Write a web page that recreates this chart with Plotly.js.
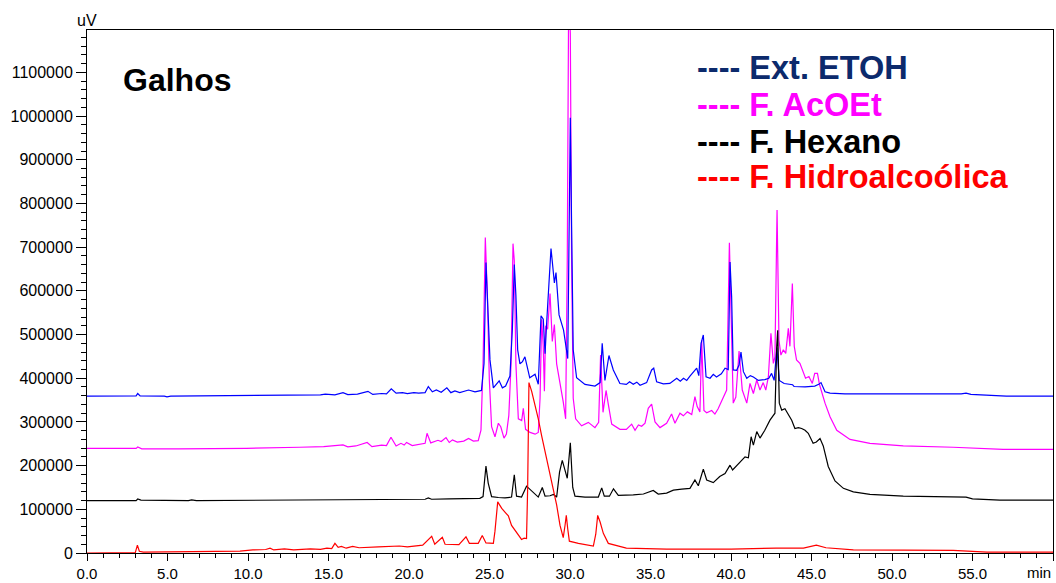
<!DOCTYPE html>
<html>
<head>
<meta charset="utf-8">
<script src="https://cdn.plot.ly/plotly-3.0.1.min.js"></script>
<style>html,body{margin:0;padding:0;background:#fff;}#chart{width:1056px;height:583px;}</style>
</head>
<body>
<div id="chart"></div>
<script>
// Retention time ticks (min)
const xTickVals = [0, 5, 10, 15, 20, 25, 30, 35, 40, 45, 50, 55, 60];
const xTickText = ["0.0", "5.0", "10.0", "15.0", "20.0", "25.0", "30.0", "35.0", "40.0", "45.0", "50.0", "55.0", ""];

const seriesNames = ["Ext. ETOH", "F. AcOEt", "F. Hexano", "F. Hidroalcoólica"];

// Ext. ETOH (blue)
const etohT = [0,3.05,3.15,3.3,4.8,4.97,5.2,9.9,12.0,13.2,14.5,14.8,15.4,15.9,16.2,16.8,17.45,17.75,18.3,18.6,18.9,19.2,19.6,19.9,20.3,20.6,21.0,21.2,21.45,21.7,22.0,22.35,22.6,22.85,23.15,23.7,24.1,24.5,24.66,24.78,24.9,25.03,25.24,25.42,25.6,25.8,26.0,26.27,26.42,26.54,26.64,26.75,26.89,27.05,27.2,27.5,27.83,28.03,28.2,28.34,28.45,28.55,28.82,29.03,29.13,29.32,29.6,29.86,29.96,30.02,30.1,30.2,30.41,30.93,31.55,31.87,32.0,32.17,32.42,32.69,33.1,33.5,33.7,33.93,34.15,34.35,34.76,35.07,35.2,35.38,35.8,36.2,36.63,36.85,37.05,37.25,37.45,37.87,38.0,38.14,38.28,38.45,38.7,38.9,39.1,39.4,39.63,39.83,39.94,40.04,40.14,40.35,40.5,40.62,40.77,40.98,41.2,41.39,41.7,42.1,42.35,42.52,42.68,42.85,43.0,43.3,43.83,43.92,44.6,45.2,45.45,45.59,45.84,46.15,47.08,49.67,54.3,54.6,54.9,57.1,60];
const etohV = [359000,359500,365000,359500,359000,357500,359000,360000,361000,362000,362000,363500,362000,367000,362500,363500,370000,363000,365000,364000,376000,366000,367000,365000,367000,366000,367000,381000,369000,373000,368000,378000,367000,371000,367000,373000,369000,372000,434000,665000,548000,442000,378000,385000,394000,378000,382000,405000,512000,660000,590000,465000,433000,438000,449000,401000,409000,386000,543000,535000,456000,527000,697000,618000,642000,545000,510000,445000,748000,996000,748000,465000,401000,386000,382000,390000,480000,395000,452000,419000,388000,386000,392000,386000,391000,384000,390000,419000,423000,392000,387000,388000,400000,393000,400000,395000,405000,423000,406000,480000,499000,403000,400000,409000,403000,410000,423000,420000,666000,586000,419000,418000,430000,460000,415000,400000,406000,403000,395000,397000,400000,411000,395000,470000,395000,388000,385000,381000,380000,382000,386000,390000,369000,366000,364000,364000,364000,366000,363000,359000,359000];

// F. AcOEt (magenta)
const acoetT = [0,3.05,3.15,3.4,5.7,9.9,13.2,14.7,15.9,16.2,16.7,17.4,17.7,18.3,18.6,18.88,19.2,19.5,19.7,19.85,20.2,20.7,21.0,21.12,21.35,21.8,22.0,22.3,22.5,22.7,23.0,23.4,23.7,24.0,24.3,24.47,24.6,24.74,24.87,24.99,25.13,25.34,25.55,25.7,25.9,26.05,26.2,26.34,26.46,26.54,26.64,26.79,27.0,27.1,27.24,27.52,27.83,28.03,28.14,28.24,28.34,28.41,28.49,28.61,28.76,28.9,29.03,29.17,29.38,29.58,29.73,29.83,29.92,30.02,30.1,30.2,30.35,30.72,31.14,31.55,31.78,31.9,32.05,32.24,32.38,32.59,33.1,33.5,33.83,34.04,34.25,34.45,34.66,34.86,35.07,35.28,35.59,36.0,36.31,36.52,36.83,37.04,37.29,37.56,37.76,37.9,38.07,38.18,38.32,38.49,38.8,39.0,39.2,39.52,39.73,39.9,40.04,40.14,40.3,40.5,40.7,40.98,41.18,41.39,41.6,41.8,42.0,42.16,42.32,42.48,42.63,42.73,42.86,42.98,43.1,43.25,43.4,43.56,43.66,43.81,43.93,44.07,44.28,44.49,44.63,44.84,45.05,45.2,45.37,45.5,45.84,46.15,46.57,47.08,47.39,48.63,50.7,53.8,56.9,60];
const acoetV = [239500,239500,242500,238500,238500,239500,242000,243500,247500,243000,245000,253000,243500,247000,246000,265000,245000,251000,247000,253000,246000,249000,251000,274000,252000,258000,255000,264000,253000,259000,254000,256000,262000,256000,257000,281000,434000,722000,586000,396000,289000,266000,297000,289000,263000,272000,315000,433000,708000,669000,433000,307000,303000,331000,283000,276000,272000,276000,354000,535000,472000,370000,520000,512000,594000,484000,523000,433000,393000,346000,307000,669000,1300000,1189000,669000,354000,307000,291000,299000,287000,299000,453000,322000,372000,340000,295000,283000,283000,295000,281000,293000,290000,297000,331000,341000,300000,287000,297000,318000,297000,320000,314000,323000,317000,358000,335000,323000,487000,326000,321000,326000,318000,330000,354000,373000,710000,510000,343000,357000,462000,373000,343000,388000,365000,396000,373000,390000,373000,403000,503000,434000,449000,785000,487000,453000,465000,457000,514000,473000,617000,473000,442000,434000,411000,400000,404000,388000,411000,411000,385000,343000,312000,281000,268000,260000,251000,245000,242000,237000,237000];

// F. Hexano (black)
const hexT = [0,3.05,3.15,3.35,6.3,6.5,6.8,15.0,18.2,21.0,21.2,21.4,22.5,24.4,24.6,24.78,24.92,25.13,25.55,25.96,26.37,26.54,26.68,26.99,27.3,27.5,28.03,28.28,28.45,28.76,28.97,29.17,29.35,29.52,29.69,29.83,30.02,30.17,30.31,30.93,31.76,31.97,32.13,32.45,32.7,33.0,33.93,34.56,35.17,35.48,36.0,36.42,36.94,37.45,37.76,37.97,38.28,38.49,38.9,39.3,39.63,39.94,40.1,40.25,40.56,40.87,41.08,41.25,41.39,41.6,41.8,42.1,42.42,42.63,42.73,42.84,42.9,43.0,43.15,43.35,43.56,43.77,43.97,44.18,44.39,44.6,44.8,45.1,45.3,45.53,45.73,46.04,46.46,46.98,47.6,48.63,50.7,54.6,55.0,56.7,60];
const hexV = [120000,120000,123500,121000,120000,121500,120000,121000,122500,123000,126000,123000,124000,125000,129000,199000,160000,129000,127000,126000,128000,179000,130000,128000,153000,146000,128000,150000,130000,131000,134000,128000,185000,212000,189000,171000,252000,150000,130000,128000,128000,149000,130000,130000,147000,132000,133000,135000,143000,135000,137000,144000,146000,148000,167000,154000,192000,167000,161000,175000,182000,201000,190000,196000,210000,220000,218000,266000,247000,278000,263000,281000,304000,316000,320000,472000,510000,343000,327000,330000,316000,304000,285000,287000,285000,281000,274000,251000,254000,262000,245000,198000,165000,148000,140000,134000,130000,128000,124000,121000,121000];

// F. Hidroalcoólica (red)
const hidroT = [0,3.0,3.13,3.25,3.5,5.3,9.5,10.3,11.1,11.37,11.6,12.26,12.84,13.87,14.5,14.9,15.2,15.4,15.6,15.8,16.1,16.5,16.9,18.1,19.4,19.9,20.2,20.85,21.41,21.6,22.07,22.24,23.1,23.54,23.75,24.3,24.55,24.78,25.24,25.34,25.51,25.76,26.0,26.17,26.37,26.68,26.99,27.15,27.3,27.37,27.45,27.62,27.83,28.03,28.24,28.55,28.86,29.17,29.38,29.58,29.69,29.77,29.86,29.96,30.52,31.45,31.6,31.72,31.87,32.07,32.38,32.6,33.0,33.5,36.0,40.0,42.8,44.5,45.3,45.9,47.6,53.8,55.9,60];
const hidroV = [0,1000,18000,4000,2000,3000,4500,7000,8000,11000,7000,9500,7000,9500,8500,11000,10000,22000,13000,15000,11000,15000,12000,14000,16000,14000,15500,18000,38000,20000,36000,20000,19000,37000,22000,22000,40000,23000,22000,50000,117000,102000,92000,85000,63000,47000,31000,34000,33000,150000,390000,370000,338000,307000,268000,216000,165000,110000,63000,35000,63000,86000,55000,27000,22000,16000,43000,86000,71000,45000,22000,20000,16000,11000,9000,9000,11000,11000,18000,12000,7000,6000,2000,2000];

const lineColors = ["#0000ff", "#ff00ff", "#000000", "#ff0000"];
const labelColors = ["#0c2a6c", "#ff00ff", "#000000", "#ff0000"];

const FONT = '"Liberation Sans", Arial, sans-serif';

function tr(x, y, c, name) {
  return {x: x, y: y, type: 'scatter', mode: 'lines', name: name,
          line: {color: c, width: 1.2}, hoverinfo: 'skip'};
}

const data = [
  tr(acoetT, acoetV, lineColors[1], seriesNames[1]),
  tr(etohT, etohV, lineColors[0], seriesNames[0]),
  tr(hexT, hexV, lineColors[2], seriesNames[2]),
  tr(hidroT, hidroV, lineColors[3], seriesNames[3])
];

const legendY = [0.9273, 0.8566, 0.7858, 0.7189];
const annotations = [
  {xref: 'paper', yref: 'paper', x: 0.035, y: 0.904, xanchor: 'left', yanchor: 'middle',
   text: '<b>Galhos</b>', showarrow: false, font: {family: FONT, size: 32, color: '#000'}},
  {xref: 'paper', yref: 'paper', x: 0, y: 1.019, xanchor: 'center', yanchor: 'middle',
   text: 'uV', showarrow: false, font: {family: FONT, size: 16, color: '#000'}},
  {xref: 'x', yref: 'paper', x: 60, y: -0.037, xanchor: 'right', yanchor: 'middle',
   text: 'min', showarrow: false, font: {family: FONT, size: 15, color: '#000'}}
];
const legendOrder = [0, 1, 2, 3];
legendOrder.forEach(function (i, k) {
  annotations.push({xref: 'paper', yref: 'paper', x: 0.629, y: legendY[k],
    xanchor: 'left', yanchor: 'middle', showarrow: false,
    text: '<b>---- ' + seriesNames[i] + '</b>',
    font: {family: FONT, size: 32.5, color: labelColors[i]}});
});

const layout = {
  width: 1056, height: 583,
  margin: {l: 87, r: 3, t: 30, b: 30, pad: 0},
  paper_bgcolor: '#fff', plot_bgcolor: '#fff',
  showlegend: false,
  font: {family: FONT, size: 16, color: '#000'},
  xaxis: {
    range: [0, 60], tickmode: 'array', tickvals: xTickVals, ticktext: xTickText,
    ticks: 'outside', ticklen: 7, tickwidth: 1, tickcolor: '#000',
    showline: true, linecolor: '#000', linewidth: 1, mirror: true,
    showgrid: false, zeroline: false,
    tickfont: {family: FONT, size: 15, color: '#000'},
    minor: {dtick: 1, tick0: 0, ticks: 'outside', ticklen: 4, tickcolor: '#000', tickwidth: 1, showgrid: false}
  },
  yaxis: {
    range: [0, 1197000], tick0: 0, dtick: 100000, tickformat: 'd',
    ticks: 'outside', ticklen: 10, tickwidth: 1, tickcolor: '#000',
    showline: true, linecolor: '#000', linewidth: 1, mirror: true,
    showgrid: false, zeroline: false,
    tickfont: {family: FONT, size: 16, color: '#000'},
    minor: {dtick: 20000, tick0: 0, ticks: 'outside', ticklen: 5, tickcolor: '#000', tickwidth: 1, showgrid: false}
  },
  annotations: annotations
};

Plotly.newPlot('chart', data, layout, {staticPlot: true, displayModeBar: false});
</script>
</body>
</html>
